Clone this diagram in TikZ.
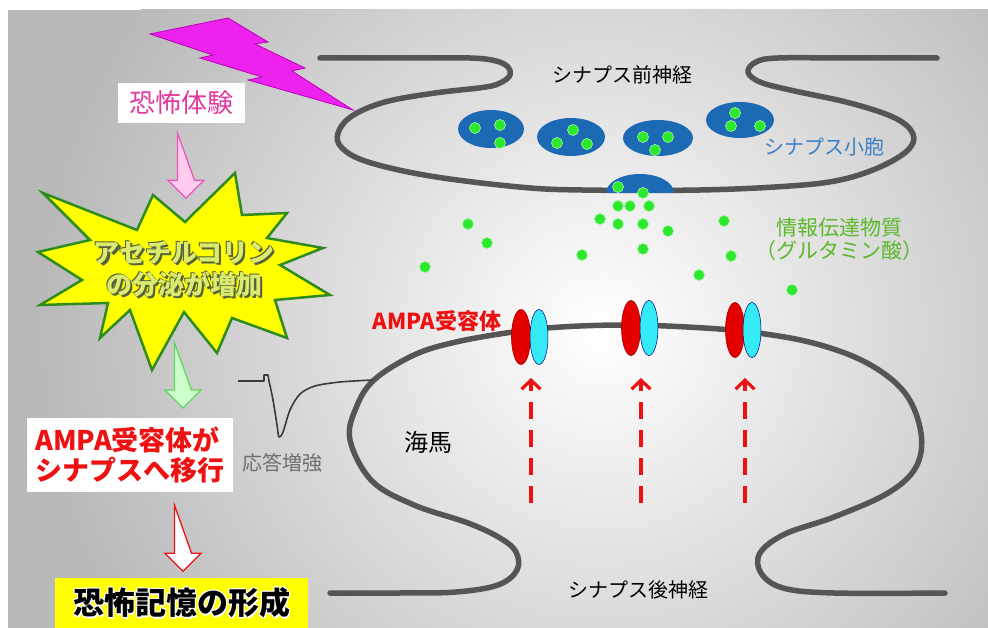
\documentclass[tikz,border=0pt]{standalone}
\usepackage{fontspec}
\newfontfamily\jp{Noto Sans CJK JP}
\usetikzlibrary{shapes.geometric,arrows.meta,calc}

\definecolor{bgedge}{HTML}{B9B9B9}
\definecolor{membranegray}{HTML}{555555}
\definecolor{boltfill}{HTML}{EE22EE}
\definecolor{boltline}{HTML}{BB00BB}
\definecolor{fearpink}{HTML}{E2389E}
\definecolor{pinkfill}{HTML}{FFCCEE}
\definecolor{pinkline}{HTML}{EE55BB}
\definecolor{staryellow}{HTML}{FFFF00}
\definecolor{stargreen}{HTML}{2E8B1E}
\definecolor{startext}{HTML}{DCEB6E}
\definecolor{starshadow}{HTML}{55613A}
\definecolor{greenfill}{HTML}{CCFFCC}
\definecolor{greenline}{HTML}{5FD65F}
\definecolor{ampared}{HTML}{EE1111}
\definecolor{vesicleblue}{HTML}{1C6AB4}
\definecolor{vesicletext}{HTML}{3C7FC4}
\definecolor{glu}{HTML}{2CE82C}
\definecolor{gluedge}{HTML}{9AF59A}
\definecolor{glutext}{HTML}{5BB82A}
\definecolor{recred}{HTML}{E50000}
\definecolor{reccyan}{HTML}{35EAF7}
\definecolor{tracegray}{HTML}{3A3A3A}
\definecolor{labelgray}{HTML}{6E6E6E}

\tikzset{
  membrane/.style={draw=membranegray, line width=5.5pt, line cap=round, line join=round},
  gludot/.style={fill=glu, draw=gluedge, line width=0.7pt},
  recR/.style={ellipse, fill=recred, draw=recred!70!black, line width=0.6pt,
    minimum width=19pt, minimum height=55pt, inner sep=0pt},
  recC/.style={ellipse, fill=reccyan, draw=blue!50!black, line width=0.5pt,
    minimum width=18pt, minimum height=55pt, inner sep=0pt},
  dasharrow/.style={draw=ampared, line width=3.2pt, dash pattern=on 17pt off 11pt,
    -{Straight Barb[length=9pt,width=19pt]}},
  label/.style={font=\jp\fontsize{20}{24}\selectfont, inner sep=0pt},
  blockpink/.style={draw=pinkline, fill=pinkfill, line width=1.3pt, line join=miter},
  blockgreen/.style={draw=greenline, fill=greenfill, line width=1.3pt, line join=miter},
  blockred/.style={draw=ampared, fill=white, line width=1.3pt, line join=miter},
  startxt/.style={font=\jp\bfseries\fontsize{26}{32}\selectfont, align=center, inner sep=0pt},
  titletxt/.style={font=\jp\bfseries\fontsize{31}{34}\selectfont, inner sep=0pt},
}

% block arrow pointing down: style, top-centre coordinate, shaft length
\newcommand\blockdown[3]{%
  \draw[#1] ($(#2)+(-8.5,0)$) -- ++(0,#3) -- ++(-9.5,0) -- ++(18,18)
    -- ++(18,-18) -- ++(-9.5,0) -- cycle;}

\begin{document}
\begin{tikzpicture}[x=1pt,y=-1pt]
\useasboundingbox (0,0) rectangle (988,628);

% background
\fill[white] (0,0) rectangle (988,628);
\fill[bgedge] (8,10) rectangle (988,628);
\begin{scope}
  \clip (8,10) rectangle (988,628);
  \shade[inner color=white, outer color=bgedge] (600,330) circle (560pt);
\end{scope}

% lightning bolt
\draw[fill=boltfill, draw=boltline, line width=0.8pt, line join=miter]
  (150,34) -- (228,18) -- (268,42) -- (255,44) -- (305,68) -- (292,71) -- (353,110)
  -- (248,80) -- (262,77) -- (200,58) -- (213,55) -- cycle;

% presynaptic terminal
\draw[membrane] plot[smooth, tension=0.6] coordinates {
  (320,58) (400,58) (470,58) (496,61) (508,67) (510,75) (502,82) (486,87)
  (435,93) (385,102) (352,116) (338,133) (342,148) (368,162) (430,176)
  (519,187) (582,190) (700,190) (790,186) (840,180) (880,167) (908,150)
  (913,134) (895,118) (850,103) (790,90) (760,82) (748,72) (756,62)
  (778,58) (850,58) (937,58)};

% postsynaptic spine
\draw[membrane] plot[smooth, tension=0.6] coordinates {
  (330,593) (400,593) (456,592) (498,585) (517,570) (516,552) (500,538)
  (468,523) (414,505) (372,481) (350,440) (356,408) (374,380) (414,355)
  (456,342) (513,332) (561,327) (624,325) (687,327) (750,332) (813,343)
  (867,363) (905,393) (921,433) (916,467) (888,493) (834,517) (785,534)
  (760,553) (761,573) (783,588) (834,593) (945,593)};

% synaptic vesicles
\fill[vesicleblue] (491,129) ellipse (33pt and 19pt);
\fill[vesicleblue] (571,137) ellipse (34pt and 19pt);
\fill[vesicleblue] (658,138) ellipse (35pt and 18pt);
\fill[vesicleblue] (740,120) ellipse (34pt and 18pt);
\fill[vesicleblue] (606,193) arc[start angle=180, end angle=0, x radius=34pt, y radius=19pt] -- cycle;

% glutamate
\foreach \x/\y in {475/128, 500/125, 500/143, 573/130, 557/143, 587/144,
    643/137, 668/137, 655/150, 735/113, 731/126, 760/126,
    618/187, 643/193, 618/206, 630/206, 649/206, 600/219, 618/224,
    643/224, 668/231, 643/249, 582/255, 468/224, 487/243, 425/267,
    724/221, 731/256, 699/275, 792/290}
  \draw[gludot] (\x,\y) circle (5.5pt);

% AMPA receptors
\node[recR] (r1a) at (521,337) {};
\node[recC] (r1b) at (539,337) {};
\node[recR] (r2a) at (631,328) {};
\node[recC] (r2b) at (649,328) {};
\node[recR] (r3a) at (735,330) {};
\node[recC] (r3b) at (752,330) {};

% receptor trafficking
\coordinate (b1) at (531,503); \coordinate (t1) at (531,378);
\coordinate (b2) at (641,503); \coordinate (t2) at (641,378);
\coordinate (b3) at (745,503); \coordinate (t3) at (745,378);
\draw[dasharrow] (b1) -- (t1);
\draw[dasharrow] (b2) -- (t2);
\draw[dasharrow] (b3) -- (t3);

% EPSC trace
\coordinate (traceend) at (373,380);
\draw[tracegray, line width=1.6pt, line join=round]
  (238,381) -- (264,381) -- (264,375) -- (268,375) -- (269,381);
\draw[tracegray, line width=1.6pt, line join=round]
  plot[smooth, tension=0.5] coordinates {(269,381) (273,400) (277,425) (279,437)
  (283,432) (290,410) (300,394) (315,386) (340,382) (traceend)};
\node[label, text=labelgray] (gain) at (282,463) {応答増強};

% labels of the synapse
\node[label] (prelbl) at (622,75) {シナプス前神経};
\node[label] (postlbl) at (638,590) {シナプス後神経};
\node[label, text=vesicletext] (veslbl) at (824,147) {シナプス小胞};
\node[label, font=\jp\fontsize{21}{23.5}\selectfont, align=center, text=glutext]
  (glulbl) at (839,239) {情報伝達物質\\（グルタミン酸）};
\node[label, font=\jp\bfseries\fontsize{22}{24}\selectfont, text=ampared]
  (ampalbl) at (437,321) {AMPA受容体};
\node[label, font=\jp\fontsize{24}{26}\selectfont] (hippo) at (428,442) {海馬};

% left column: flow of events
\node[fill=white, minimum width=127pt, minimum height=40pt, inner sep=0pt,
  font=\jp\fontsize{26}{28}\selectfont, text=fearpink] (fear) at (181.5,103) {恐怖体験};
\coordinate (pinktop) at ($(fear.south)+(4.5,10)$);
\blockdown{blockpink}{pinktop}{47}

\coordinate (greentop) at (183,343);
\blockdown{blockgreen}{greentop}{47}

\draw[fill=staryellow, draw=stargreen, line width=2.5pt, line join=miter, miter limit=20]
  (43,193) -- (137,230) -- (153,195) -- (185,222) -- (235,173) -- (242,215)
  -- (287,213) -- (267,238) -- (323,248) -- (280,265) -- (330,295) -- (275,300)
  -- (287,338) -- (232,318) -- (217,353) -- (184,312) -- (152,370) -- (130,310)
  -- (100,338) -- (108,303) -- (40,305) -- (82,280) -- (38,252) -- (90,240) -- cycle;

% star caption: dark outline and drop shadow under pale letters
\node[startxt, text=starshadow] (accsh) at (186.5,271.5) {アセチルコリン\\の分泌が増加};
\node[startxt, text=starshadow] (accsa) at (183.2,268.2) {アセチルコリン\\の分泌が増加};
\node[startxt, text=starshadow] (accsb) at (184.8,269.8) {アセチルコリン\\の分泌が増加};
\node[startxt, text=startext] (acc) at (184,269) {アセチルコリン\\の分泌が増加};

\node[fill=white, minimum width=206pt, minimum height=74pt, inner sep=0pt, align=left,
  text=ampared, font=\jp\bfseries\fontsize{27}{30}\selectfont]
  (move) at (130,455) {AMPA受容体が\\シナプスへ移行};

\coordinate (redtop) at ($(move.south)+(53,13)$);
\blockdown{blockred}{redtop}{48}

% title box with a faint white halo round the letters
\node[fill=staryellow, minimum width=253pt, minimum height=50pt, inner sep=0pt]
  (memorybox) at (181.5,603) {};
\foreach \dx/\dy [count=\i] in {1.4/1.4, -1/1, 1/-1, -1/-1}
  \node[titletxt, text=white] (memglow\i) at ($(memorybox.center)+(\dx,\dy)$) {恐怖記憶の形成};
\node[titletxt] (memory) at (memorybox.center) {恐怖記憶の形成};

\end{tikzpicture}
\end{document}
